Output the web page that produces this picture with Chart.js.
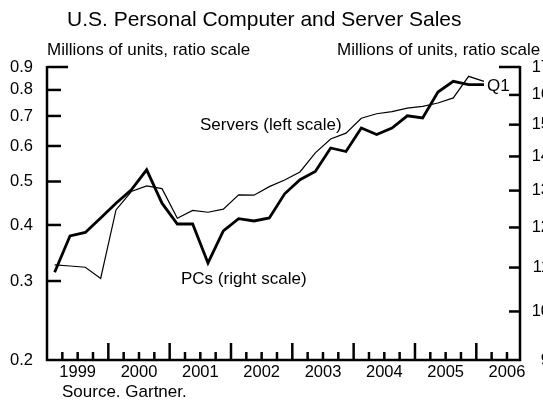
<!DOCTYPE html>
<html>
<head>
<meta charset="utf-8">
<script src="https://cdn.jsdelivr.net/npm/chart.js@4"></script>
<style>
  html, body { margin: 0; padding: 0; background: #fff; }
  #wrap { width: 543px; height: 400px; }
</style>
</head>
<body>
<div id="wrap"><canvas id="salesChart" width="543" height="400"></canvas></div>
<script>
// quarterly data, 1999Q1 .. 2006Q1
const quarters = ['1999Q1','1999Q2','1999Q3','1999Q4','2000Q1','2000Q2','2000Q3','2000Q4',
    '2001Q1','2001Q2','2001Q3','2001Q4','2002Q1','2002Q2','2002Q3','2002Q4',
    '2003Q1','2003Q2','2003Q3','2003Q4','2004Q1','2004Q2','2004Q3','2004Q4',
    '2005Q1','2005Q2','2005Q3','2005Q4','2006Q1'];
const serverSales = [0.326, 0.324, 0.322, 0.304, 0.432, 0.475, 0.489, 0.482,
    0.414, 0.431, 0.427, 0.434, 0.467, 0.466, 0.487, 0.504,
    0.525, 0.579, 0.622, 0.641, 0.692, 0.708, 0.716, 0.729,
    0.735, 0.748, 0.768, 0.858, 0.836];
const pcSales = [10.89, 11.78, 11.87, 12.25, 12.65, 13.02, 13.60, 12.65,
    12.09, 12.09, 11.11, 11.91, 12.23, 12.17, 12.25, 12.91,
    13.31, 13.55, 14.26, 14.15, 14.89, 14.68, 14.89, 15.29,
    15.22, 16.10, 16.48, 16.36, 16.36];
const yearLabels = ['1999','2000','2001','2002','2003','2004','2005','2006'];
const leftTicks = [0.2, 0.3, 0.4, 0.5, 0.6, 0.7, 0.8, 0.9];
const rightTicks = [9, 10, 11, 12, 13, 14, 15, 16, 17];

const FONT = '"Liberation Sans", Arial, sans-serif';

const toPoints = vals => vals.map((v, i) => ({ x: i + 0.5, y: v }));

const axesPlugin = {
    id: 'ratioAxes',
    afterDraw(chart) {
        const { ctx, chartArea: a, scales } = chart;
        const x = scales.x, yL = scales.yL, yR = scales.yR;
        ctx.save();
        ctx.strokeStyle = '#000';
        ctx.fillStyle = '#000';
        ctx.lineWidth = 2.5;

        // frame: left, bottom, right
        ctx.beginPath();
        ctx.moveTo(a.left, a.top - 1);
        ctx.lineTo(a.left, a.bottom);
        ctx.lineTo(a.right, a.bottom);
        ctx.lineTo(a.right, a.top - 1);
        ctx.stroke();

        // left ticks + labels
        ctx.font = '16.5px ' + FONT;
        ctx.textAlign = 'right';
        ctx.textBaseline = 'middle';
        leftTicks.forEach((v, i) => {
            const py = yL.getPixelForValue(v);
            if (i > 0) {
                const len = i === leftTicks.length - 1 ? 21 : 14;
                ctx.beginPath();
                ctx.moveTo(a.left, py);
                ctx.lineTo(a.left + len, py);
                ctx.stroke();
            }
            ctx.fillText(v.toFixed(1), 33, py);
        });

        // right ticks + labels (clipped by canvas edge like the original)
        rightTicks.forEach((v, i) => {
            const py = yR.getPixelForValue(v);
            if (i > 0) {
                const len = i === rightTicks.length - 1 ? 21 : 11;
                ctx.beginPath();
                ctx.moveTo(a.right, py);
                ctx.lineTo(a.right - len, py);
                ctx.stroke();
            }
            ctx.fillText(String(v), 550, py);
        });

        // bottom quarter ticks
        for (let q = 1; q <= Math.floor(x.max); q++) {
            const px = x.getPixelForValue(q);
            const len = q % 4 === 0 ? 17 : 8;
            ctx.beginPath();
            ctx.moveTo(px, a.bottom);
            ctx.lineTo(px, a.bottom - len);
            ctx.stroke();
        }

        // year labels
        ctx.textAlign = 'center';
        ctx.textBaseline = 'alphabetic';
        yearLabels.forEach((yr, k) => {
            ctx.fillText(yr, x.getPixelForValue(k * 4 + 2), 377);
        });

        // texts
        ctx.textAlign = 'left';
        ctx.font = '21px ' + FONT;
        ctx.fillText('U.S. Personal Computer and Server Sales', 67, 26);
        ctx.font = '17px ' + FONT;
        ctx.fillText('Millions of units, ratio scale', 47, 55);
        ctx.fillText('Millions of units, ratio scale', 337, 55);
        ctx.fillText('Servers (left scale)', 200, 130);
        ctx.fillText('PCs (right scale)', 181, 284);
        ctx.fillText('Q1', 487, 91);
        ctx.fillText('Source. Gartner.', 62, 397);
        ctx.restore();
    }
};

new Chart(document.getElementById('salesChart'), {
    type: 'line',
    data: {
        labels: quarters,
        datasets: [
            {
                label: 'Servers (left scale)',
                data: toPoints(serverSales),
                yAxisID: 'yL',
                borderColor: '#000',
                borderWidth: 1.2,
                pointRadius: 0,
                tension: 0
            },
            {
                label: 'PCs (right scale)',
                data: toPoints(pcSales),
                yAxisID: 'yR',
                borderColor: '#000',
                borderWidth: 2.8,
                pointRadius: 0,
                tension: 0
            }
        ]
    },
    options: {
        responsive: false,
        animation: false,
        devicePixelRatio: 1,
        layout: { padding: { left: 47, right: 23, top: 67, bottom: 40 } },
        plugins: {
            legend: { display: false },
            title: { display: false },
            tooltip: { enabled: false }
        },
        scales: {
            x: { type: 'linear', min: 0, max: 30.85, display: false },
            yL: { type: 'logarithmic', position: 'left', min: 0.2, max: 0.9, display: false },
            yR: { type: 'logarithmic', position: 'right', min: 9, max: 17, display: false }
        }
    },
    plugins: [axesPlugin]
});
</script>
</body>
</html>
